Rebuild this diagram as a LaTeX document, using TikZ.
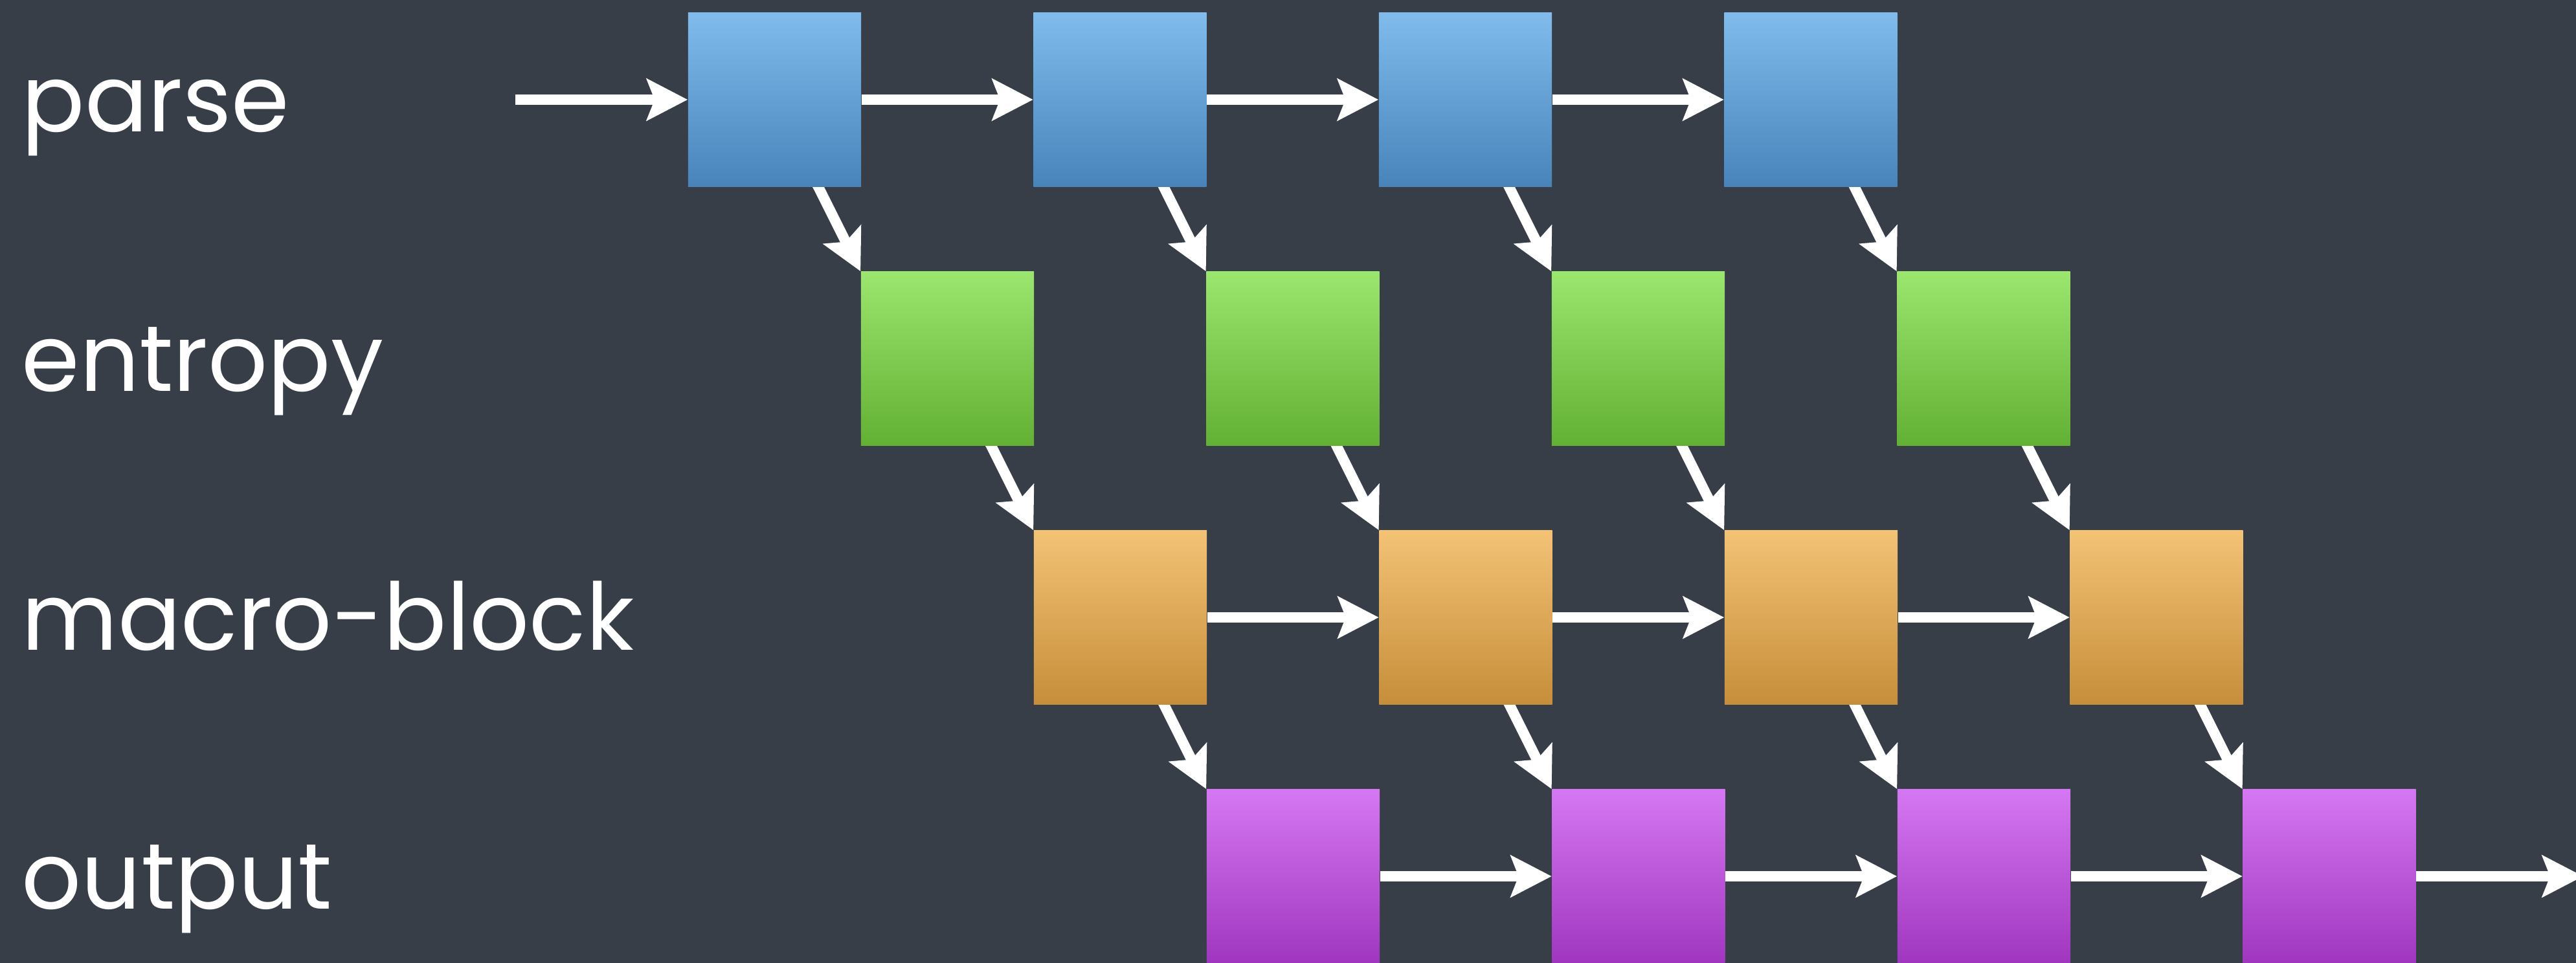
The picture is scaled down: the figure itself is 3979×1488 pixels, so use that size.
\documentclass[tikz,border=0pt]{standalone}
\usepackage{fontspec}
\setmainfont{Poppins}
\usetikzlibrary{arrows.meta,positioning}

\definecolor{bgdark}{HTML}{373E48}
\definecolor{blueTop}{HTML}{80BBEC}
\definecolor{blueBot}{HTML}{4884BA}
\definecolor{greenTop}{HTML}{9BE66E}
\definecolor{greenBot}{HTML}{62B034}
\definecolor{orangeTop}{HTML}{F3C275}
\definecolor{orangeBot}{HTML}{C68E3A}
\definecolor{purpleTop}{HTML}{D577F2}
\definecolor{purpleBot}{HTML}{A036BF}

\pgfdeclarelayer{bglayer}
\pgfdeclarelayer{arrowlayer}
\pgfsetlayers{bglayer,arrowlayer,main}

\tikzset{
  stage/.style 2 args={rectangle,inner sep=0pt,minimum width=2.67cm,minimum height=2.68cm,top color=#1,bottom color=#2},
  rowlabel/.style={anchor=base west,inner sep=0pt,text=white,font=\fontsize{41}{49}\selectfont},
  flow/.style={draw=white,line width=1.6mm,->}
}

\begin{document}
\begin{tikzpicture}[x=0.01cm,y=-0.01cm,>={Stealth[length=6.3mm,width=6.4mm,inset=1.2mm]}]
\begin{pgfonlayer}{bglayer}
\fill[bgdark] (0,0) rectangle (3979,1488);
\end{pgfonlayer}
\useasboundingbox (0,0) rectangle (3979,1488);
% row labels
\node[rowlabel] (lparse) at (33,204) {parse};
\node[rowlabel] (lentropy) at (33,604) {entropy};
\node[rowlabel] (lmacro) at (33,1004) {macro-block};
\node[rowlabel] (loutput) at (33,1404) {output};
% stages, one column per frame
\foreach \i in {0,...,3}{
  \node[stage={blueTop}{blueBot}] (p\i) at (1196.5+533.5*\i,154) {};
  \node[stage={greenTop}{greenBot}] (e\i) at (1463.5+533.5*\i,554) {};
  \node[stage={orangeTop}{orangeBot}] (m\i) at (1730.5+533.5*\i,954) {};
  \node[stage={purpleTop}{purpleBot}] (o\i) at (1997.5+533.5*\i,1354) {};
}
\coordinate (in) at (796,154);
\coordinate (out) at (3990,1354);
% connectors go under the boxes
\begin{pgfonlayer}{arrowlayer}
\draw[flow] (in) -- (p0.west);
\foreach \i/\j in {0/1,1/2,2/3}{
  \draw[flow] (p\i.east) -- (p\j.west);
  \draw[flow] (m\i.east) -- (m\j.west);
  \draw[flow] (o\i.east) -- (o\j.west);
}
\draw[flow] (o3.east) -- (out);
\foreach \i in {0,...,3}{
  \draw[flow] (p\i.center) -- (e\i.north west);
  \draw[flow] (e\i.center) -- (m\i.north west);
  \draw[flow] (m\i.center) -- (o\i.north west);
}
\end{pgfonlayer}
\end{tikzpicture}
\end{document}
